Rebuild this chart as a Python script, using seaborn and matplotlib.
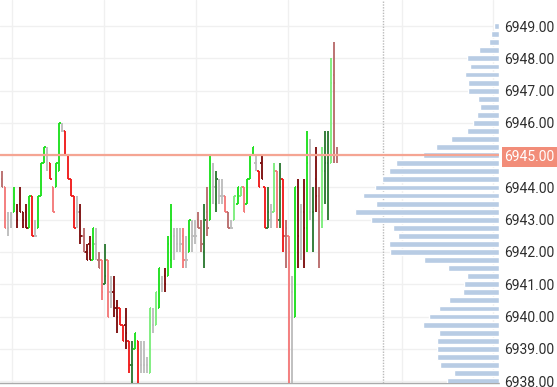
import numpy as np
import matplotlib
matplotlib.use('Agg')
import matplotlib.pyplot as plt
import seaborn as sns

# OHLC bars (ES, 0.25 tick), read left to right
highs = [6944.5, 6944.0, 6943.25, 6943.25, 6944.0, 6943.5, 6944.0, 6943.25, 6943.5, 6943.75,
         6943.75, 6943.0, 6943.75, 6944.75, 6945.25, 6945.25, 6944.75, 6944.0, 6944.75, 6946.0,
         6946.0, 6945.75, 6945.0, 6944.25, 6943.75, 6943.75, 6943.5, 6942.75, 6942.25, 6942.5,
         6942.75, 6942.75, 6942.0, 6941.75, 6942.25, 6941.75, 6941.25, 6941.25, 6940.5, 6940.25,
         6939.75, 6940.25, 6939.25, 6939.25, 6939.5, 6939.25, 6939.25, 6939.25, 6938.75, 6940.25,
         6940.25, 6940.75, 6941.5, 6941.25, 6941.5, 6942.5, 6943.5, 6942.75, 6942.75, 6942.75,
         6942.75, 6942.5, 6943.0, 6943.0, 6943.0, 6943.25, 6943.0, 6943.5, 6944.0, 6945.0,
         6944.75, 6944.5, 6944.25, 6944.25, 6943.75, 6943.25, 6943.0, 6943.75, 6944.0, 6944.0,
         6944.0, 6944.25, 6945.0, 6945.25, 6945.0, 6944.5, 6945.0, 6944.0, 6944.0, 6943.5,
         6944.75, 6944.5, 6944.75, 6944.25, 6943.0, 6942.5, 6941.25, 6944.0, 6944.25, 6943.5,
         6944.25, 6945.75, 6945.5, 6944.0, 6945.25, 6944.0, 6945.25, 6945.75, 6945.75, 6948.0,
         6948.5, 6945.25]
lows = [6944.0, 6942.75, 6942.5, 6942.75, 6943.25, 6942.75, 6943.25, 6942.75, 6942.75, 6942.75,
        6942.5, 6942.5, 6942.75, 6943.75, 6944.75, 6944.5, 6944.25, 6943.25, 6944.0, 6944.5,
        6945.75, 6945.0, 6944.25, 6943.75, 6942.75, 6942.75, 6942.25, 6942.0, 6941.75, 6941.75,
        6941.75, 6941.75, 6941.5, 6940.5, 6941.0, 6940.0, 6940.25, 6940.0, 6939.5, 6939.75,
        6939.25, 6939.0, 6938.25, 6937.75, 6939.0, 6937.75, 6938.25, 6938.25, 6938.25, 6938.25,
        6939.5, 6939.75, 6940.25, 6940.75, 6940.75, 6941.25, 6941.5, 6941.75, 6942.0, 6942.0,
        6941.5, 6941.5, 6942.0, 6942.0, 6942.25, 6942.75, 6942.0, 6941.5, 6942.5, 6943.0,
        6943.5, 6943.25, 6943.5, 6943.5, 6943.25, 6942.75, 6942.75, 6943.0, 6943.5, 6943.75,
        6943.25, 6943.5, 6944.25, 6945.0, 6944.5, 6944.0, 6944.25, 6942.75, 6942.75, 6942.75,
        6943.25, 6942.75, 6942.75, 6942.0, 6941.5, 6937.5, 6937.5, 6940.0, 6941.5, 6941.75,
        6941.5, 6942.0, 6943.0, 6942.0, 6943.25, 6941.5, 6942.75, 6943.5, 6943.0, 6944.75,
        6944.75, 6944.75]
opens = [6944.25, 6944.0, 6942.75, 6943.0, 6943.25, 6943.25, 6943.5, 6943.25, 6943.25, 6942.75,
         6943.75, 6942.5, 6942.75, 6943.75, 6944.75, 6945.0, 6944.75, 6944.0, 6944.0, 6944.5,
         6945.75, 6945.75, 6945.0, 6944.25, 6943.75, 6943.25, 6943.25, 6942.5, 6942.0, 6942.25,
         6941.75, 6942.25, 6941.75, 6941.75, 6941.0, 6941.75, 6940.75, 6940.75, 6940.25, 6940.25,
         6939.75, 6939.75, 6939.25, 6938.5, 6939.0, 6939.25, 6938.5, 6938.5, 6938.5, 6938.25,
         6939.75, 6939.75, 6940.25, 6941.0, 6941.25, 6941.25, 6941.75, 6942.5, 6942.25, 6942.25,
         6942.5, 6941.75, 6942.0, 6942.5, 6942.5, 6943.0, 6942.75, 6942.0, 6943.25, 6943.0,
         6944.0, 6943.5, 6943.75, 6943.75, 6943.75, 6943.25, 6942.75, 6943.0, 6943.5, 6943.75,
         6944.0, 6943.5, 6944.25, 6945.0, 6944.75, 6944.5, 6944.75, 6944.0, 6942.75, 6943.0,
         6943.25, 6944.5, 6943.0, 6944.25, 6942.5, 6942.5, 6940.75, 6940.0, 6944.0, 6943.25,
         6943.25, 6942.75, 6943.25, 6943.25, 6944.25, 6943.75, 6943.25, 6944.5, 6944.75, 6944.75,
         6947.5, 6945.0]
closes = [6944.0, 6942.75, 6942.75, 6943.0, 6943.5, 6943.0, 6943.25, 6943.0, 6942.75, 6943.75,
          6942.5, 6942.5, 6943.75, 6944.75, 6945.25, 6945.0, 6944.25, 6943.25, 6944.75, 6946.0,
          6945.75, 6945.0, 6944.25, 6943.75, 6942.75, 6943.25, 6942.5, 6942.0, 6941.75, 6941.75,
          6942.75, 6942.25, 6941.5, 6940.75, 6941.25, 6940.0, 6940.75, 6940.25, 6940.0, 6939.75,
          6939.25, 6939.5, 6938.5, 6938.5, 6939.5, 6937.75, 6938.5, 6938.5, 6938.5, 6940.25,
          6939.75, 6940.75, 6941.5, 6941.0, 6941.0, 6942.25, 6943.0, 6942.5, 6942.25, 6942.25,
          6941.75, 6941.75, 6943.0, 6942.5, 6942.5, 6942.75, 6942.25, 6943.0, 6942.75, 6945.0,
          6944.0, 6944.25, 6943.75, 6943.75, 6943.25, 6942.75, 6942.75, 6943.75, 6944.0, 6944.0,
          6943.25, 6944.25, 6945.0, 6945.25, 6944.75, 6944.0, 6944.25, 6942.75, 6943.25, 6943.0,
          6944.5, 6943.0, 6944.0, 6942.5, 6942.75, 6942.0, 6940.75, 6944.0, 6942.5, 6943.25,
          6942.75, 6944.75, 6943.25, 6943.25, 6943.75, 6943.25, 6944.5, 6944.75, 6945.0, 6947.25,
          6947.25, 6945.0]
# bar shade: G bright green, g light green, D dark green, R red, r light red,
# M dark red, B brownish, Y grey
shades = list("BrYYGMMMMGRYGGGYRrGGYRRRRYMBMMGYBrDrYMMRRMRDGRYYYgYgGYMGGYYYrYGYYBBDBGYDYYrBYgGgrGGGYRMRDYgrDRBrYGMYMGYDMBgDDgBB")

palette = {'G': '#1fe01f', 'g': '#7ded7d', 'D': '#2f7a34', 'R': '#f01c1c',
           'r': '#f47a7a', 'M': '#7d1010', 'B': '#b96d6d', 'Y': '#bdbdbd'}

# volume profile (price level -> size)
profile_prices = np.arange(6938.0, 6949.01, 0.25)
profile_vol = [52, 45, 59, 62, 62, 62, 60, 76, 70, 60, 50, 36, 35, 32, 51, 75,
               109, 110, 101, 106, 128, 144, 123, 136, 124, 117, 110, 103, 76, 63, 48, 32,
               26, 22, 19, 21, 31, 31, 34, 29, 32, 20, 10, 8, 5]

last_price = 6945.0
yticks = np.arange(6938, 6950)
time_grid = [3.3, 33.8, 64.2, 94.7, 132.5, 162.6]
now_marker = 126.2

sns.set_theme(style='white')
plt.rcParams['font.family'] = ['Roboto', 'DejaVu Sans']

fig = plt.figure(figsize=(5.57, 3.87), dpi=100)
ax = fig.add_axes([0, 4 / 387, 499 / 557, 383 / 387])

idx = np.arange(len(highs))
cols = [palette[s] for s in shades]
tw = 0.45
ax.vlines(idx, lows, highs, colors=cols, lw=1.35, zorder=3)
ax.hlines(opens, idx - tw, idx, colors=cols, lw=1.35, zorder=3)
ax.hlines(closes, idx, idx + tw, colors=cols, lw=1.35, zorder=3)

ax.axvline(now_marker, color='#bbbbbb', lw=1, ls=(0, (1, 1)), zorder=1)

ax.set_xlim(-0.66, 164.6)
ax.set_ylim(6937.94, 6949.81)
ax.set_xticks(time_grid)
ax.set_yticks(yticks)
ax.set_yticklabels([f'{v:.2f}' for v in yticks])
ax.yaxis.tick_right()
ax.tick_params(axis='x', length=0, labelbottom=False)
ax.tick_params(axis='y', length=0, pad=4, labelsize=10, labelcolor='#2e2e2e')
ax.grid(True, color='#f0f0f0', lw=1)
for side in ['top', 'left', 'right']:
    ax.spines[side].set_visible(False)
ax.spines['bottom'].set_color('#aaaaaa')
ax.spines['bottom'].set_linestyle((0, (1, 1)))
ax.spines['bottom'].set_linewidth(1)

for lbl in ax.get_yticklabels():
    if lbl.get_text() == f'{last_price:.2f}':
        lbl.set_color('white')
        lbl.set_bbox(dict(boxstyle='square,pad=0.22', fc='#f28d79', ec='none'))

# profile on a twin axis growing from the right edge
ax2 = ax.twiny()
ax2.barh(profile_prices, profile_vol, height=0.18, color='#b8cce4', zorder=2)
ax2.set_xlim(499, 0)
ax2.axhline(last_price, color='#f5a593', lw=1.6, zorder=4)
ax2.axis('off')

fig.savefig('out.png', dpi=100)
